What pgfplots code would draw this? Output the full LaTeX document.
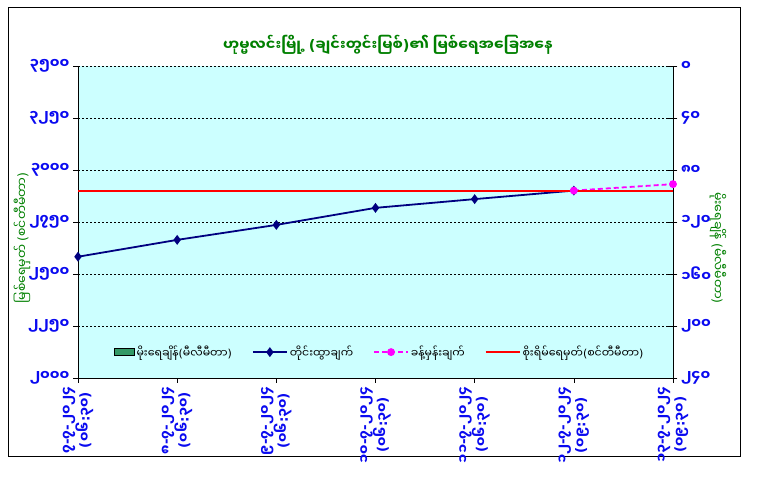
\documentclass[border=0pt]{standalone}
\usepackage{fontspec}
\usepackage{pgfplots}
\pgfplotsset{compat=1.18}
\newfontfamily\mm[Script=Myanmar]{Noto Sans Myanmar UI}
\newfontfamily\lat{DejaVu Sans}
% punctuation that the Myanmar font lacks
\newcommand\LP{{\lat(}}
\newcommand\RP{{\lat)}}
\newcommand\HY{{\lat-}}
\newcommand\CL{{\lat:}}

\definecolor{bgcyan}{HTML}{CCFFFF}
\definecolor{tickblue}{HTML}{0A0AF0}
\definecolor{ttlgreen}{HTML}{008000}
\definecolor{navyline}{HTML}{000080}
\definecolor{rainbar}{HTML}{339966}
\definecolor{fcmag}{HTML}{FF00FF}

% water level (cm)
\pgfplotstableread{
x level
0 2583
1 2664
2 2736
3 2818
4 2860
5 2901
}\measured
\pgfplotstableread{
x level
5 2901
6 2932
}\forecast

\begin{document}
\begin{tikzpicture}
\useasboundingbox (0pt,0pt) rectangle (766pt,479pt);
\fill[white] (0pt,0pt) rectangle (766pt,479pt);
\draw[black, line width=1pt] (8pt,22pt) rectangle (740pt,471pt);

\node[font=\mm\bfseries\fontsize{14.5}{17}\selectfont, text=ttlgreen] at (388pt,434pt)
  {ဟုမ္မလင်းမြို့ \LP ချင်းတွင်းမြစ်\RP ၏ မြစ်ရေအခြေအနေ};
\node[rotate=90, font=\mm\fontsize{12.5}{15}\selectfont, text=ttlgreen] at (22pt,241pt)
  {မြစ်ရေမှတ် \LP စင်တီမီတာ\RP};
\node[rotate=-90, font=\mm\fontsize{12.5}{15}\selectfont, text=ttlgreen] at (718pt,231pt)
  {မိုးရေချိန် \LP မီလီမီတာ\RP};

% rainfall axis (right, reversed)
\begin{axis}[
  at={(78pt,101pt)}, anchor=south west,
  scale only axis, width=595pt, height=312pt,
  xmin=0, xmax=6, ymin=0, ymax=240, y dir=reverse,
  axis x line=none, axis y line*=right,
  axis line style={black, line width=0.8pt},
  axis background/.style={fill=bgcyan},
  ytick={0,40,...,240},
  yticklabels={၀,၄၀,၈၀,၁၂၀,၁၆၀,၂၀၀,၂၄၀},
  yticklabel style={font=\mm\bfseries\fontsize{14}{16}\selectfont, text=tickblue},
  tick align=center, major tick length=9pt,
  tick style={black, line width=0.6pt},
]
\addplot[draw=none] coordinates {(0,0)};
\end{axis}

% water level axis (left)
\begin{axis}[
  at={(78pt,101pt)}, anchor=south west,
  scale only axis, width=595pt, height=312pt,
  xmin=0, xmax=6, ymin=2000, ymax=3500,
  axis x line*=bottom, axis y line*=left,
  axis line style={black, line width=0.8pt},
  clip=false,
  xtick={0,...,6},
  xticklabels={{၇\HY၇\HY၂၀၂၄\\\LP၀၆\CL၃၀\RP},{၈\HY၇\HY၂၀၂၄\\\LP၀၆\CL၃၀\RP},
    {၉\HY၇\HY၂၀၂၄\\\LP၀၆\CL၃၀\RP},{၁၀\HY၇\HY၂၀၂၄\\\LP၀၆\CL၃၀\RP},
    {၁၁\HY၇\HY၂၀၂၄\\\LP၀၆\CL၃၀\RP},{၁၂\HY၇\HY၂၀၂၄\\\LP၀၉\CL၃၀\RP},
    {၁၃\HY၇\HY၂၀၂၄\\\LP၀၉\CL၃၀\RP}},
  xticklabel style={rotate=90, anchor=east, align=center,
    font=\mm\bfseries\fontsize{13.5}{18}\selectfont, text=tickblue},
  ytick={2000,2250,...,3500},
  yticklabels={၂၀၀၀,၂၂၅၀,၂၅၀၀,၂၇၅၀,၃၀၀၀,၃၂၅၀,၃၅၀၀},
  yticklabel style={font=\mm\bfseries\fontsize{14}{16}\selectfont, text=tickblue},
  tick align=outside, major tick length=5pt,
  tick style={black, line width=0.6pt},
  ymajorgrids,
  major grid style={black, line width=0.6pt, dash pattern=on 2pt off 2pt},
  legend columns=4,
  legend style={draw=none, fill=none, at={(0.507,0.083)}, anchor=center,
    font=\mm\fontsize{11}{13}\selectfont,
    /tikz/every even column/.append style={column sep=18pt}},
  legend image code/.code={\draw[mark repeat=2, mark phase=2, #1]
    plot coordinates {(0pt,0pt) (17pt,0pt) (34pt,0pt)};},
]
\addlegendimage{legend image code/.code={\draw[fill=rainbar, draw=black, line width=0.6pt]
  (0pt,-3.5pt) rectangle (20pt,3.5pt);}}
\addlegendentry{မိုးရေချိန်\LP မီလီမီတာ\RP}
\addplot[navyline, line width=1.8pt, mark=diamond*, mark size=3.5pt]
  table[x=x, y=level] {\measured};
\addlegendentry{တိုင်းထွာချက်}
\addplot[fcmag, line width=1.8pt, dash pattern=on 5pt off 3pt, mark=*, mark size=3pt,
  mark options={solid}]
  table[x=x, y=level] {\forecast};
\addlegendentry{ခန့်မှန်းချက်}
\addplot[red, line width=1.8pt, no marks] coordinates {(0,2900) (6,2900)};
\addlegendentry{စိုးရိမ်ရေမှတ်\LP စင်တီမီတာ\RP}
\end{axis}
\end{tikzpicture}
\end{document}
